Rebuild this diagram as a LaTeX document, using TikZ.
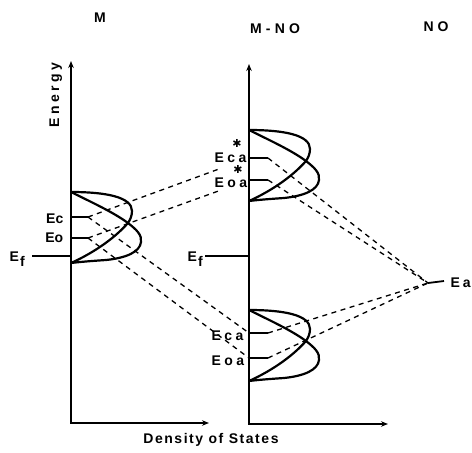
\documentclass[tikz,border=0pt]{standalone}
\usepackage{fontspec}
\setmainfont{Liberation Sans}
\newfontfamily\dejavu{DejaVu Sans}
\usetikzlibrary{arrows.meta,calc}
\begin{document}
\begin{tikzpicture}[x=1pt,y=-1pt,
  axis/.style={line width=1.5pt,{Stealth[length=7pt,width=5.5pt]}-{Stealth[length=7pt,width=5.5pt]}},
  band/.style={line width=2.2pt,line join=round},
  tickln/.style={line width=1.3pt},
  link/.style={line width=1.3pt,dash pattern=on 5pt off 4.5pt},
  lab/.style={font=\fontsize{14}{14}\selectfont\bfseries,inner sep=0.5pt},
  sp/.style={font=\fontsize{14}{14}\selectfont\bfseries\addfontfeature{LetterSpace=24},inner sep=0.5pt},
  title/.style={font=\fontsize{14}{14}\selectfont\bfseries\addfontfeature{LetterSpace=28},inner sep=0.5pt},
  axlab/.style={font=\fontsize{14}{14}\selectfont\bfseries\addfontfeature{LetterSpace=#1},inner sep=0.5pt},
  starlab/.style={font=\dejavu\bfseries\fontsize{11}{11}\selectfont,inner sep=0pt},
  pics/dos/.style={code={
    \draw[band] (0,0) .. controls (35,0) and (61,5) .. (61,19)
      .. controls (61,24) and (59,28) .. (57,31)
      .. controls (42,48) and (20,62) .. (0,71);
    \draw[band] (0,0) .. controls (20,10) and (42,20) .. (57,31)
      .. controls (66,38) and (71,43) .. (70,50)
      .. controls (69,60) and (55,66) .. (35,68)
      .. controls (20,69) and (8,70) .. (0,71);
  }}]
\useasboundingbox (0,0) rectangle (472,453);

% axes
\coordinate (Ltop) at (71,61);
\coordinate (Lo) at (71,423);
\coordinate (Lx) at (209,423);
\coordinate (Mtop) at (249,64);
\coordinate (Mo) at (249,424);
\coordinate (Mx) at (388,424);
\draw[axis] (Ltop) -- (Lo) -- (Lx);
\draw[axis] (Mtop) -- (Mo) -- (Mx);

% bands
\pic at (71,192) {dos};
\pic at (249,130) {dos};
\pic at (249,310) {dos};

% tick points
\coordinate (Lc) at (71,217);  \coordinate (Lce) at (88,217);
\coordinate (Lob) at (71,238); \coordinate (Loe) at (88,238);
\coordinate (Uca) at (249,158); \coordinate (Ucae) at (268,158);
\coordinate (Uoa) at (249,180); \coordinate (Uoae) at (268,180);
\coordinate (Dca) at (249,333); \coordinate (Dcae) at (268,333);
\coordinate (Doa) at (249,358); \coordinate (Doae) at (268,358);
\coordinate (Ea) at (428,283);  \coordinate (Eae) at (444,281);
\coordinate (Ef1s) at (32,256); \coordinate (Ef1e) at (71,256);
\coordinate (Ef2s) at (205,256); \coordinate (Ef2e) at (249,256);

\draw[tickln] (Lc) -- (Lce);
\draw[tickln] (Lob) -- (Loe);
\draw[tickln] (Uca) -- (Ucae);
\draw[tickln] (Uoa) -- (Uoae);
\draw[tickln] (Dca) -- (Dcae);
\draw[tickln] (Doa) -- (Doae);
\draw[tickln] (Ef1s) -- (Ef1e);
\draw[tickln] (Ef2s) -- (Ef2e);
\draw[line width=1.8pt] (Ea) -- (Eae);

% dashed correlation lines
\draw[link] (Lce) -- ($(Lce)!0.83!(Uca)$);
\draw[link] (Loe) -- ($(Loe)!0.83!(Uoa)$);
\draw[link] (Lce) -- (Dca);
\draw[link] (Loe) -- (Doa);
\draw[link] (Ucae) -- (Ea);
\draw[link] (Uoae) -- (Ea);
\draw[link] (Dcae) -- (Ea);
\draw[link] (Doae) -- (Ea);

% labels
\node[title] (tM) at (100,18) {M};
\node[axlab=30] (tMNO) at (275,29) {M-NO};
\node[axlab=28] (tNO) at (436,27) {NO};
\node[axlab=25,rotate=90,anchor=base] (tE) at (59,95) {Energy};
\node[axlab=11,anchor=base] (tD) at (211,443) {Density of States};

\node[lab,anchor=base east] (lEc) at (64,223) {Ec};
\node[lab,anchor=base east] (lEo) at (64,242.5) {Eo};
\node[lab,anchor=base west] (lEf1) at (9,261) {E\kern1pt\raisebox{-5pt}{f}};
\node[lab,anchor=base west] (lEf2) at (187,261) {E\kern1pt\raisebox{-5pt}{f}};
\node[sp,anchor=base west] (lUca) at (214,162) {Eca};
\node[sp,anchor=base west] (lUoa) at (214,187) {Eoa};
\node[starlab] (s1) at (237,143.5) {✱};
\node[starlab] (s2) at (238,169) {✱};
\node[sp,anchor=base west] (lDca) at (211,340) {Eca};
\node[sp,anchor=base west] (lDoa) at (211,365) {Eoa};
\node[axlab=20,anchor=base west] (lEa) at (450,287) {Ea};
\end{tikzpicture}
\end{document}
